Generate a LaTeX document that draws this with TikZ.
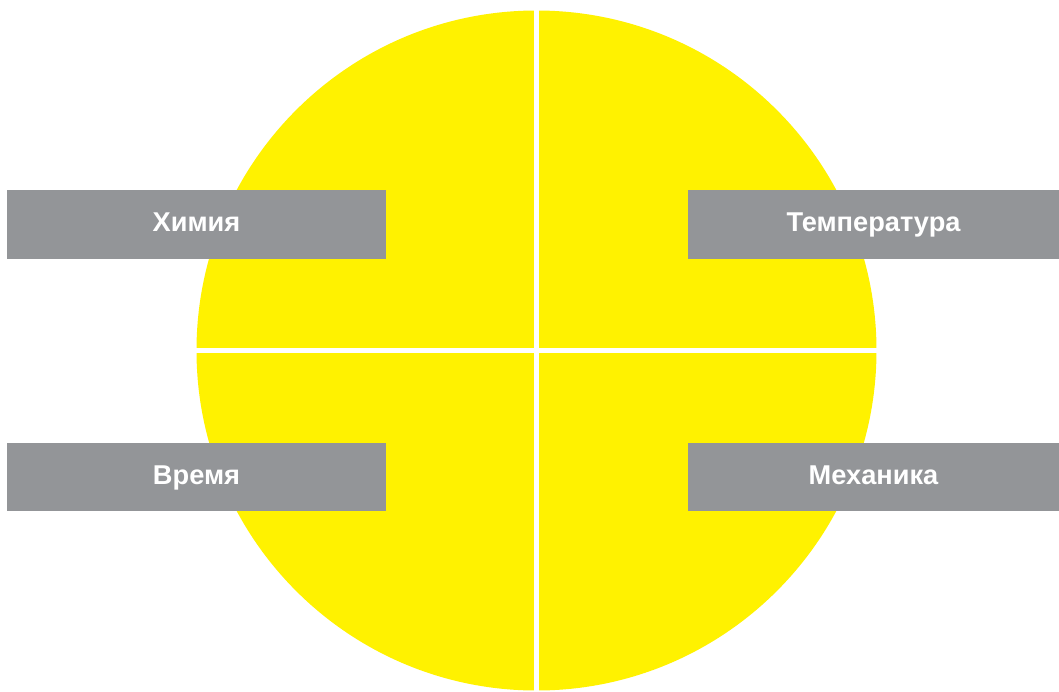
\documentclass[tikz,border=0pt]{standalone}
\usepackage{fontspec}
\setmainfont{Liberation Sans}
\definecolor{sunyellow}{HTML}{FFF200}
\definecolor{boxgray}{HTML}{939598}
\tikzset{
  labelbox/.style={fill=boxgray, draw=none, text=white, font=\fontsize{27.2}{31}\selectfont\bfseries,
    minimum height=68.5pt, inner sep=0pt, text height=20pt, text depth=5.2pt, anchor=center},
  gapline/.style={draw=white, line width=5.5pt}
}
\begin{document}
\begin{tikzpicture}[x=1pt,y=-1pt]
\useasboundingbox (0,0) rectangle (1059,691);
\fill[white] (0,0) rectangle (1059,691);
\fill[sunyellow] (536.5,350.5) circle[radius=340];
\coordinate (top) at (536.5,0);
\coordinate (bottom) at (536.5,691);
\coordinate (left) at (180,350.5);
\coordinate (right) at (890,350.5);
\draw[gapline] (top) -- (bottom);
\draw[gapline] (left) -- (right);
\node[labelbox, minimum width=379pt] (chem) at (196.5,224.3) {Химия};
\node[labelbox, minimum width=379pt] (time) at (196.5,477.2) {Время};
\node[labelbox, minimum width=371pt] (temp) at (873.5,224.3) {Температура};
\node[labelbox, minimum width=371pt] (mech) at (873.5,477.2) {Механика};
\end{tikzpicture}
\end{document}
